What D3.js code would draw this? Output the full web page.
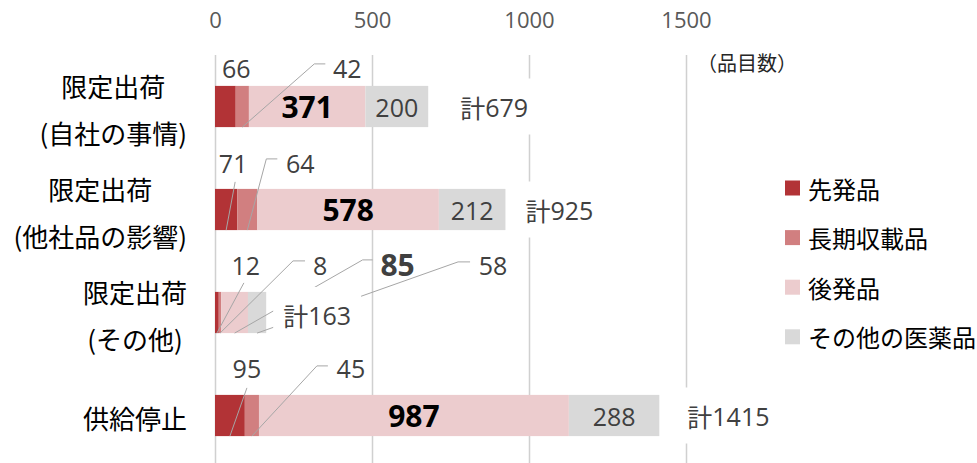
<!DOCTYPE html>
<html>
<head>
<meta charset="utf-8">
<script src="https://cdn.jsdelivr.net/npm/d3@7"></script>
<style>
  body { margin: 0; background: #fff; }
  text { font-family: "Open Sans", "Noto Sans CJK JP", sans-serif; }
  .jp { font-family: "Noto Sans CJK JP", sans-serif; }
</style>
</head>
<body>
<div id="chart"></div>
<script>
// chart data
var categories = [["限定出荷", "(自社の事情)"], ["限定出荷", "(他社品の影響)"], ["限定出荷", "(その他)"], ["供給停止"]];
var seriesNames = ["先発品", "長期収載品", "後発品", "その他の医薬品"];
var brandValues = [66, 71, 12, 95];
var longListedValues = [42, 64, 8, 45];
var genericValues = [371, 578, 85, 987];
var otherValues = [200, 212, 58, 288];
var totalValues = [679, 925, 163, 1415];
var tickValues = [0, 500, 1000, 1500];

var colors = ["#B23336", "#D17F80", "#ECCCCE", "#D9D9D9"];

// label placement for the small segments (pixel offsets from the segment's top centre)
var callouts = {
    "0-0": {dx: 11, dy: -18},
    "0-1": {dx: 105, dy: -18, sx: -22, sy: -4, elbow: 11},
    "1-0": {dx: 7, dy: -26, sx: 2, sy: 19},
    "1-1": {dx: 53, dy: -26, sx: -23, sy: -4, elbow: 11},
    "2-0": {dx: 29, dy: -27, sx: -2, sy: 18},
    "2-1": {dx: 100, dy: -27, sx: -15, sy: -4, elbow: 12},
    "2-2": {dx: 163, dy: -27, sx: -25, sy: -5, elbow: 10},
    "2-3": {dx: 236, dy: -27, sx: -23, sy: -3, elbow: 12},
    "3-0": {dx: 17, dy: -27, sx: 0, sy: 20},
    "3-1": {dx: 99, dy: -27, sx: -23, sy: -2, elbow: 11}
};
var totalOffsets = [{dx: 32, dy: 0}, {dx: 20, dy: 0}, {dx: 17, dy: 2.5}, {dx: 28, dy: 0}];

var width = 977, height = 463;

var svg = d3.select("#chart").append("svg")
    .attr("width", width)
    .attr("height", height)
    .style("display", "block");

// build rows for the stack
var rows = categories.map(function(c, i) {
    return {i: i, s0: brandValues[i], s1: longListedValues[i], s2: genericValues[i], s3: otherValues[i]};
});
var keys = ["s0", "s1", "s2", "s3"];
var series = d3.stack().keys(keys)(rows);

var x = d3.scaleLinear().domain([0, 1500]).range([215, 686]);
var y = d3.scaleBand()
    .domain(d3.range(categories.length))
    .range([55, 467])
    .paddingInner(0.6)
    .paddingOuter(0.3);

// axis on top with gridlines
var axis = svg.append("g")
    .attr("transform", "translate(0,55)")
    .call(d3.axisTop(x).tickValues(tickValues).tickFormat(d3.format("d"))
        .tickSize(-(height - 55)).tickPadding(27));
axis.select(".domain").remove();
axis.selectAll(".tick line").attr("stroke", "#D0D0D0").attr("stroke-width", 1.5);
axis.selectAll(".tick text")
    .attr("fill", "#595959")
    .style("font-size", "22px");

svg.append("text")
    .attr("class", "jp")
    .attr("x", 697)
    .attr("y", 62)
    .attr("dominant-baseline", "central")
    .attr("fill", "#262626")
    .style("font-size", "20px")
    .text("（品目数）");

// bars
svg.selectAll(".series")
    .data(series)
    .enter().append("g")
    .attr("class", "series")
    .attr("fill", function(d, k) { return colors[k]; })
    .selectAll("rect")
    .data(function(d) { return d; })
    .enter().append("rect")
    .attr("x", function(d) { return x(d[0]); })
    .attr("y", function(d) { return y(d.data.i); })
    .attr("width", function(d) { return x(d[1]) - x(d[0]); })
    .attr("height", y.bandwidth());

// collect labels
var labels = [];
series.forEach(function(s, k) {
    s.forEach(function(d) {
        var i = d.data.i;
        var cx = (x(d[0]) + x(d[1])) / 2;
        var top = y(i), bottom = y(i) + y.bandwidth();
        var c = callouts[i + "-" + k];
        var lab = {value: d.data[keys[k]], bold: k === 2, callout: !!c};
        if (c) {
            lab.x = cx + c.dx;
            lab.y = top + c.dy;
            if (c.sx !== undefined) {
                var pts = [[lab.x + c.sx, lab.y + c.sy]];
                if (c.elbow) pts.push([lab.x + c.sx - c.elbow, lab.y + c.sy]);
                pts.push([cx, bottom]);
                lab.leader = pts;
            }
        } else {
            lab.x = cx;
            lab.y = top + y.bandwidth() / 2;
        }
        labels.push(lab);
    });
});

// leader lines
svg.selectAll(".leader")
    .data(labels.filter(function(d) { return d.leader; }))
    .enter().append("path")
    .attr("class", "leader")
    .attr("d", function(d) { return d3.line()(d.leader); })
    .attr("fill", "none")
    .attr("stroke", "#A6A6A6")
    .attr("stroke-width", 1);

// totals with white box
var totals = svg.selectAll(".total")
    .data(totalValues)
    .enter().append("g")
    .attr("class", "total");
totals.each(function(v, i) {
    var g = d3.select(this);
    var tx = x(v) + totalOffsets[i].dx;
    var ty = y(i) + y.bandwidth() / 2 + totalOffsets[i].dy;
    var rect = g.append("rect").attr("fill", "#fff");
    var t = g.append("text")
        .attr("x", tx)
        .attr("y", ty)
        .attr("dominant-baseline", "central")
        .attr("fill", "#404040")
        .style("font-size", "25px");
    t.append("tspan").attr("class", "jp").text("計");
    t.append("tspan").text(v);
    var w = t.node().getComputedTextLength();
    rect.attr("x", tx - 10).attr("y", ty - 28).attr("width", w + 20).attr("height", 56);
});

// value labels
svg.selectAll(".vlabel")
    .data(labels)
    .enter().append("text")
    .attr("class", "vlabel")
    .attr("x", function(d) { return d.x; })
    .attr("y", function(d) { return d.y; })
    .attr("text-anchor", "middle")
    .attr("dominant-baseline", "central")
    .attr("fill", function(d) { return d.bold && !d.callout ? "#000" : "#404040"; })
    .style("font-weight", function(d) { return d.bold ? "bold" : "normal"; })
    .style("font-size", function(d) { return d.bold ? "30px" : "25px"; })
    .text(function(d) { return d.value; });

// category labels, lines centred, block right aligned
categories.forEach(function(lines, i) {
    var cy = y(i) + y.bandwidth() / 2 + 2;
    var g = svg.append("g").attr("class", "cat");
    var texts = lines.map(function(line, j) {
        return g.append("text")
            .attr("class", "jp")
            .attr("y", cy + (j - (lines.length - 1) / 2) * 47)
            .attr("text-anchor", "middle")
            .attr("dominant-baseline", "central")
            .attr("fill", "#000")
            .style("font-size", "26px")
            .text(line);
    });
    var maxW = d3.max(texts, function(t) { return t.node().getComputedTextLength(); });
    texts.forEach(function(t) { t.attr("x", 187 - maxW / 2); });
});

// legend
var legend = svg.selectAll(".legend")
    .data(seriesNames)
    .enter().append("g")
    .attr("class", "legend")
    .attr("transform", function(d, k) { return "translate(785," + (188 + k * 49.6) + ")"; });
legend.append("rect")
    .attr("y", -7.5)
    .attr("width", 15)
    .attr("height", 15)
    .attr("fill", function(d, k) { return colors[k]; });
legend.append("text")
    .attr("class", "jp")
    .attr("x", 23)
    .attr("dominant-baseline", "central")
    .attr("fill", "#000")
    .style("font-size", "24px")
    .text(function(d) { return d; });
</script>
</body>
</html>
